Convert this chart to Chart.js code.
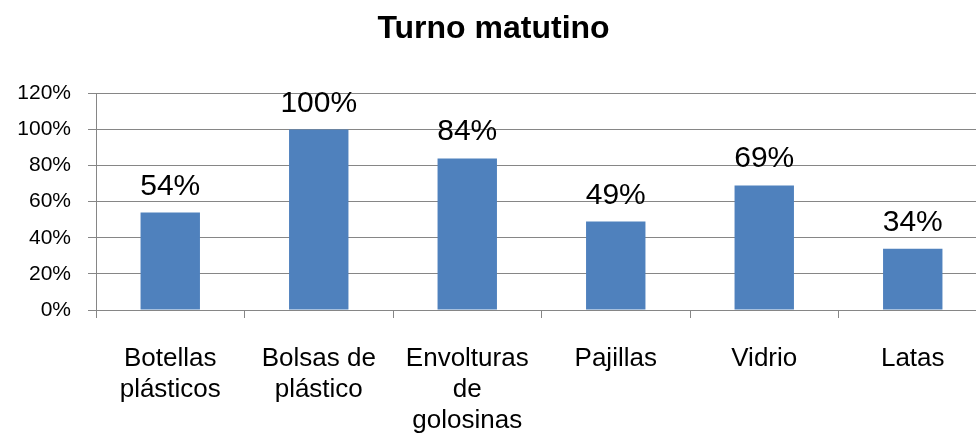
<!DOCTYPE html>
<html>
<head>
<meta charset="utf-8">
<script src="https://cdn.jsdelivr.net/npm/chart.js@4"></script>
<style>
  html, body { margin: 0; padding: 0; background: #fff; overflow: hidden; }
  #wrap { width: 1000px; height: 434px; }
</style>
</head>
<body>
<div id="wrap"><canvas id="residuosChart" width="1000" height="434"></canvas></div>
<script>
// Data
const categories = [
  ["Botellas", "plásticos"],
  ["Bolsas de", "plástico"],
  ["Envolturas", "de", "golosinas"],
  "Pajillas",
  "Vidrio",
  "Latas",
];
const percentages = [54, 100, 84, 49, 69, 34];
const yTicks = [0, 20, 40, 60, 80, 100, 120];

const gray = "#868686";
const fontFamily = "'Liberation Sans', Arial, sans-serif";

// value labels above each bar
const barLabels = {
  id: "barLabels",
  afterDatasetsDraw(chart) {
    const ctx = chart.ctx;
    const meta = chart.getDatasetMeta(0);
    ctx.save();
    ctx.font = "30px " + fontFamily;
    ctx.fillStyle = "#000";
    ctx.textAlign = "center";
    ctx.textBaseline = "alphabetic";
    meta.data.forEach((bar, i) => {
      ctx.fillText(percentages[i] + "%", bar.x, bar.y - 18);
    });
    ctx.restore();
  },
};

const ctx = document.getElementById("residuosChart").getContext("2d");
new Chart(ctx, {
  type: "bar",
  data: {
    labels: categories,
    datasets: [
      {
        data: percentages,
        backgroundColor: "#4F81BD",
        categoryPercentage: 1,
        barPercentage: 0.4,
      },
    ],
  },
  options: {
    responsive: false,
    animation: false,
    layout: { padding: { left: 0, right: 13, top: 0, bottom: 0 } },
    plugins: {
      legend: { display: false },
      tooltip: { enabled: false },
      title: {
        display: true,
        text: "Turno matutino",
        color: "#000",
        font: { family: fontFamily, size: 32, weight: "bold" },
        padding: { top: 10, bottom: 45 },
      },
    },
    scales: {
      x: {
        grid: {
          display: true,
          drawOnChartArea: false,
          drawTicks: true,
          tickLength: 8,
          offset: true,
          color: gray,
        },
        border: { display: true, color: gray, width: 1 },
        ticks: {
          color: "#000",
          font: { family: fontFamily, size: 26, lineHeight: 1.2 },
          padding: 25,
          maxRotation: 0,
          autoSkip: false,
        },
        afterFit(scale) {
          scale.height = 124;
        },
      },
      y: {
        min: 0,
        max: 120,
        afterBuildTicks(scale) {
          scale.ticks = yTicks.map((v) => ({ value: v }));
        },
        grid: { color: gray, tickLength: 8 },
        border: { display: true, color: gray, width: 1 },
        ticks: {
          color: "#000",
          font: { family: fontFamily, size: 21 },
          padding: 17,
          callback: (v) => v + "%",
        },
        afterFit(scale) {
          scale.width = 96;
        },
      },
    },
  },
  plugins: [barLabels],
});
</script>
</body>
</html>
